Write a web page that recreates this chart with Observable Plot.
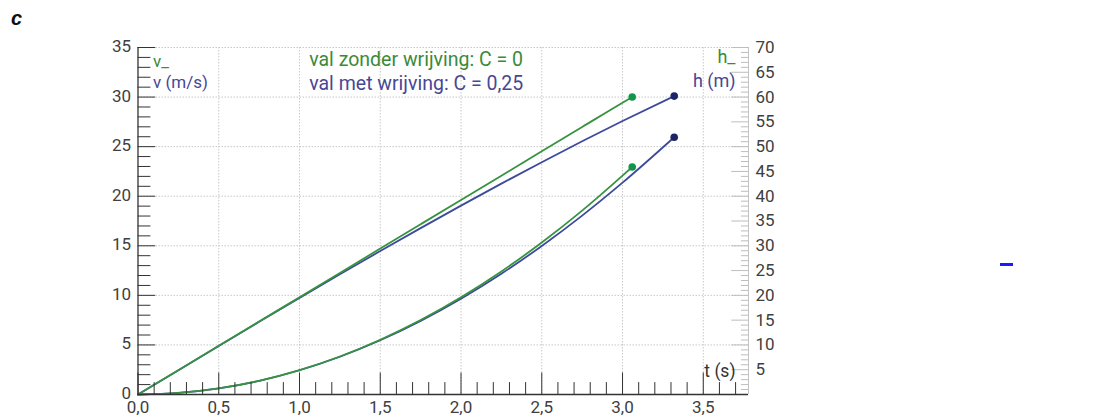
<!DOCTYPE html>
<html><head><meta charset="utf-8">
<script src="https://cdn.jsdelivr.net/npm/d3@7"></script>
<script src="https://cdn.jsdelivr.net/npm/@observablehq/plot@0.6"></script>
<style>
body{margin:0;background:#fff}
#wrap{position:relative;width:1104px;height:416px}
#c{position:absolute;z-index:2;left:11px;top:7px;font:italic bold 20px "Liberation Sans",Arial,sans-serif;color:#111}
#dash{position:absolute;z-index:2;left:1000px;top:263px;width:13px;height:3px;background:#1a1aff}
</style></head>
<body><div id="wrap"><div id="c">c</div><div id="dash"></div></div>
<script>
// val zonder wrijving (C = 0)
const tFree = [0, 0.25, 0.5, 0.75, 1.0, 1.25, 1.5, 1.75, 2.0, 2.25, 2.5, 2.75, 3.0, 3.06];
const vFree = [0, 2.45, 4.91, 7.36, 9.81, 12.26, 14.72, 17.17, 19.62, 22.07, 24.53, 26.98, 29.43, 30.0];
const hFree = [0, 0.31, 1.23, 2.76, 4.91, 7.66, 11.04, 15.02, 19.62, 24.83, 30.66, 37.09, 44.15, 45.9];
// val met wrijving (C = 0,25)
const tDrag = [0, 0.25, 0.5, 0.75, 1.0, 1.25, 1.5, 1.75, 2.0, 2.25, 2.5, 2.75, 3.0, 3.32];
const vDrag = [0, 2.45, 4.90, 7.33, 9.74, 12.12, 14.47, 16.78, 19.05, 21.27, 23.43, 25.54, 27.58, 30.1];
const hDrag = [0, 0.31, 1.23, 2.75, 4.89, 7.62, 10.94, 14.85, 19.33, 24.37, 29.96, 36.08, 42.73, 51.9];

const xTickValues = [0, 0.5, 1.0, 1.5, 2.0, 2.5, 3.0, 3.5];
const vTickValues = [0, 5, 10, 15, 20, 25, 30, 35];
const hTickValues = [5, 10, 15, 20, 25, 30, 35, 40, 45, 50, 55, 60, 65, 70];

const green = "#379340", greenDot = "#11954a", greenText = "#3a8a3a";
const blue = "#3d4a9c", blueDot = "#1b2566", blueText = "#474894";
const labelColor = "#404040";
const font = "Roboto, 'Liberation Sans', sans-serif";

const free = tFree.map((t, i) => ({t, v: vFree[i], h: hFree[i]}));
const drag = tDrag.map((t, i) => ({t, v: vDrag[i], h: hDrag[i]}));

const xMinor = d3.range(0, 38).map(i => i / 10).filter(d => d <= 3.75);
const vMinor = d3.range(0, 36);
const hMinor = d3.range(1, 71); // metres
const comma = d => d.toFixed(1).replace(".", ",");
const line = {draw(ctx, l) { ctx.moveTo(0, 0); ctx.lineTo(0, -l); }};
const tickVec = (data, opts) => Plot.vector(data, {anchor: "start", shape: line, strokeWidth: 1, ...opts});

const chart = Plot.plot({
  width: 1104, height: 416,
  marginLeft: 137.5, marginRight: 356, marginTop: 47, marginBottom: 22,
  x: {domain: [0, 3.78], axis: null},
  y: {domain: [0, 35], axis: null},
  style: {fontFamily: font, background: "#fff"},
  marks: [
    // grid
    Plot.ruleX(xTickValues.slice(1), {stroke: "#c8c8c8", strokeDasharray: "1.5,1.5", strokeWidth: 1}),
    Plot.ruleY(vTickValues.slice(1), {stroke: "#c8c8c8", strokeDasharray: "1.5,1.5", strokeWidth: 1}),
    // right axis line
    Plot.ruleX([3.78], {stroke: "#c4c4c4", strokeWidth: 1}),
    // curves (wrijving first, then zonder)
    Plot.line(drag, {x: "t", y: "v", stroke: blue, strokeWidth: 1.8, curve: "monotone-x"}),
    Plot.line(drag, {x: "t", y: d => d.h / 2, stroke: blue, strokeWidth: 1.8, curve: "monotone-x"}),
    Plot.line(free, {x: "t", y: "v", stroke: green, strokeWidth: 1.8, curve: "monotone-x"}),
    Plot.line(free, {x: "t", y: d => d.h / 2, stroke: green, strokeWidth: 1.8, curve: "monotone-x"}),
    Plot.dot(free.slice(-1), {x: "t", y: "v", r: 3.8, fill: greenDot}),
    Plot.dot(free.slice(-1), {x: "t", y: d => d.h / 2, r: 3.8, fill: greenDot}),
    Plot.dot(drag.slice(-1), {x: "t", y: "v", r: 3.8, fill: blueDot}),
    Plot.dot(drag.slice(-1), {x: "t", y: d => d.h / 2, r: 3.8, fill: blueDot}),
    // axis lines
    Plot.ruleY([0], {stroke: "#333", strokeWidth: 1.3}),
    Plot.ruleX([0], {stroke: "#333", strokeWidth: 1.3}),
    // x ticks (pointing up)
    tickVec(xMinor, {x: d => d, y: () => 0, rotate: 0, length: d => (Math.round(d * 10) % 5 === 0 ? 9 : 5), stroke: "#333"}),
    // left ticks (pointing right)
    tickVec(vMinor, {x: () => 0, y: d => d, rotate: 90, length: d => (d % 5 === 0 ? 7 : 5), stroke: "#333"}),
    // right ticks (pointing left)
    tickVec(hMinor, {x: () => 3.78, y: d => d / 2, rotate: -90, length: d => (d % 5 === 0 ? 7 : 3), stroke: "#bdbdbd"}),
    // tick labels
    Plot.text(xTickValues, {x: d => d, y: () => 0, text: comma, dy: 13, fontSize: 17, fill: labelColor, textAnchor: "middle"}),
    Plot.text(vTickValues, {x: () => 0, y: d => d, text: d => String(d), dx: -7, dy: -1, fontSize: 17, fill: labelColor, textAnchor: "end"}),
    Plot.text(hTickValues, {x: () => 3.78, y: d => d / 2, text: d => String(d), dx: 7, fontSize: 17, fill: labelColor, textAnchor: "start"}),
    // labels
    Plot.text(["v_"], {x: () => 0, y: () => 35, dx: 15, dy: 14, text: d => d, fill: greenText, fontSize: 17, textAnchor: "start"}),
    Plot.text(["v (m/s)"], {x: () => 0, y: () => 35, dx: 15, dy: 35, text: d => d, fill: blueText, fontSize: 17, textAnchor: "start"}),
    Plot.text(["h_"], {x: () => 3.78, y: () => 35, dx: -13, dy: 10, text: d => d, fill: greenText, fontSize: 18, textAnchor: "end"}),
    Plot.text(["h (m)"], {x: () => 3.78, y: () => 35, dx: -13, dy: 34, text: d => d, fill: blueText, fontSize: 18, textAnchor: "end"}),
    Plot.text(["val zonder wrijving: C = 0"], {x: () => 1.06, y: () => 35, dy: 12, text: d => d, fill: greenText, fontSize: 19.5, textAnchor: "start"}),
    Plot.text(["val met wrijving: C = 0,25"], {x: () => 1.06, y: () => 35, dy: 36, text: d => d, fill: blueText, fontSize: 19.5, textAnchor: "start"}),
    Plot.text(["t (s)"], {x: () => 3.78, y: () => 0, dx: -13, dy: -23, text: d => d, fill: "#333", fontSize: 17.5, textAnchor: "end"})
  ]
});
document.getElementById("wrap").appendChild(chart);
chart.style.position = "absolute"; chart.style.left = "0"; chart.style.top = "0"; chart.style.zIndex = "1";
</script>
</body></html>
